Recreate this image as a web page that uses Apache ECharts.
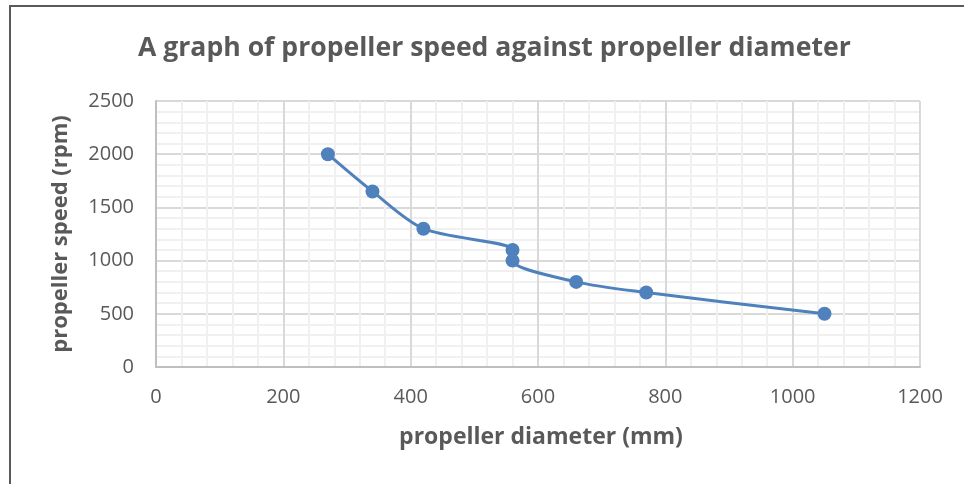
<!DOCTYPE html>
<html>
<head>
<meta charset="UTF-8">
<title>propeller speed</title>
<script src="https://cdn.jsdelivr.net/npm/echarts@6/dist/echarts.min.js"></script>
<style>
	html, body { margin: 0; padding: 0; background: #fff; }
	#frame { position: absolute; left: 9px; top: 5px; right: 0; bottom: 0; border-top: 2px solid #5a5a5a; border-left: 2px solid #5a5a5a; }
	#chart { position: absolute; left: 0; top: 0; width: 964px; height: 484px; }
</style>
</head>
<body>
<div id="frame"></div>
<div id="chart"></div>
<script type="text/javascript">
	// diameter (mm) and speed (rpm)
	var diameter = [270, 340, 420, 560, 560, 660, 770, 1050];
	var speed = [2000, 1650, 1300, 1100, 1000, 800, 700, 500];

	var points = [];
	for (var i = 0; i < diameter.length; i++) {
		points.push([diameter[i], speed[i]]);
	}

	var font = 'Open Sans';
	var grey = '#595959';

	var chart = echarts.init(document.getElementById('chart'));
	var option = {
		animation: false,
		title: {
			text: 'A graph of propeller speed against propeller diameter',
			left: 133,
			top: 30,
			textStyle: { fontFamily: font, fontSize: 26.6, fontWeight: 'bold', color: grey }
		},
		grid: { left: 156, right: 44, top: 101, bottom: 117 },
		xAxis: {
			type: 'value',
			min: 0, max: 1200, interval: 200,
			name: 'propeller diameter (mm)',
			nameLocation: 'middle',
			nameGap: 59,
			nameTextStyle: { fontFamily: font, fontSize: 23, fontWeight: 'bold', color: grey, padding: [0, 0, 0, 6] },
			axisLine: { show: true, lineStyle: { color: '#bfbfbf', width: 2 } },
			axisTick: { show: false },
			minorTick: { show: false, splitNumber: 5 },
			axisLabel: { fontFamily: font, fontSize: 20, color: grey, margin: 20, formatter: function (v) { return String(v); } },
			splitLine: { lineStyle: { color: '#d9d9d9', width: 2 } },
			minorSplitLine: { show: true, lineStyle: { color: '#f0f0f0', width: 2 } }
		},
		yAxis: {
			type: 'value',
			min: 0, max: 2500, interval: 500,
			name: 'propeller speed (rpm)',
			nameLocation: 'middle',
			nameGap: 84,
			nameTextStyle: { fontFamily: font, fontSize: 22, fontWeight: 'bold', color: grey },
			axisLine: { show: true, lineStyle: { color: '#bfbfbf', width: 2 } },
			axisTick: { show: false },
			minorTick: { show: false, splitNumber: 5 },
			axisLabel: { fontFamily: font, fontSize: 20, color: grey, margin: 22, formatter: function (v) { return String(v); } },
			splitLine: { lineStyle: { color: '#d9d9d9', width: 2 } },
			minorSplitLine: { show: true, lineStyle: { color: '#f0f0f0', width: 2 } }
		},
		series: [{
			type: 'line',
			data: points,
			smooth: 0.3,
			symbol: 'circle',
			symbolSize: 14,
			lineStyle: { color: '#4f81bd', width: 3 },
			itemStyle: { color: '#4f81bd' }
		}]
	};
	chart.setOption(option);
</script>
</body>
</html>
